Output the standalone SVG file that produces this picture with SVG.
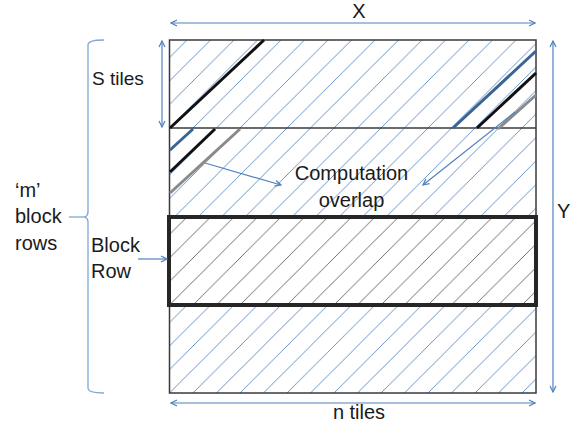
<svg xmlns="http://www.w3.org/2000/svg" width="574" height="429" viewBox="0 0 574 429">
  <style>
    .lbl { font-family: "Liberation Sans", Arial, sans-serif; font-size: 20px; fill: #1a1a1a; }
    .dim { stroke: #4f81bd; stroke-width: 1.2; fill: none; }
    .hatchB { stroke: #4f81bd; stroke-width: 0.85; }
    .hatchG { stroke: #555555; stroke-width: 0.85; }
    .frame { fill: none; stroke: #3a3a3a; stroke-width: 1.5; }
  </style>
  <defs>
    <marker id="open" viewBox="0 0 8 8" refX="7" refY="4" markerWidth="8" markerHeight="8" markerUnits="userSpaceOnUse" orient="auto-start-reverse">
      <path d="M1,1 L7,4 L1,7" fill="none" stroke="#4f81bd" stroke-width="1.2"/>
    </marker>
    <!-- 45 degree hatch, period 23.5 px; anchored per band -->
    <pattern id="hTop" patternUnits="userSpaceOnUse" x="169.5" y="128" width="23.5" height="23.5">
      <path class="hatchB" d="M-2,25.5 L25.5,-2"/>
    </pattern>
    <pattern id="hRow" patternUnits="userSpaceOnUse" x="169.5" y="305" width="23.5" height="23.5">
      <path class="hatchG" d="M-2,25.5 L25.5,-2"/>
    </pattern>
    <pattern id="hBot" patternUnits="userSpaceOnUse" x="169.5" y="393" width="23.5" height="23.5">
      <path class="hatchB" d="M-2,25.5 L25.5,-2"/>
    </pattern>
  </defs>

  <!-- tiled domain -->
  <g id="domain">
    <rect x="169.5" y="40" width="366.5" height="177" fill="url(#hTop)"/>
    <rect x="169.5" y="305" width="366.5" height="88" fill="url(#hBot)"/>
    <rect class="frame" x="169.5" y="40" width="366.5" height="353"/>
    <line x1="169.5" y1="128" x2="536" y2="128" stroke="#3a3a3a" stroke-width="1.5"/>
  </g>

  <!-- dependency wavefront lines -->
  <g id="wavefronts" stroke-width="3" fill="none" stroke-linecap="butt">
    <line x1="170" y1="128" x2="264" y2="40" stroke="#111111"/>
    <line x1="453" y1="128" x2="536" y2="51" stroke="#3b6496"/>
    <line x1="477" y1="128" x2="536" y2="73" stroke="#111111"/>
    <line x1="498" y1="129" x2="536" y2="95" stroke="#8a8a8a"/>
    <line x1="170" y1="150" x2="193" y2="129" stroke="#3b6496"/>
    <line x1="170" y1="172" x2="215" y2="129" stroke="#111111"/>
    <line x1="170" y1="193" x2="240" y2="129" stroke="#8a8a8a"/>
  </g>

  <!-- block row -->
  <g id="block-row">
    <rect x="169" y="217" width="367" height="88" fill="url(#hRow)"/>
    <rect x="169" y="217" width="367" height="88" fill="none" stroke="#262626" stroke-width="4"/>
  </g>

  <!-- dimension and pointer arrows -->
  <g id="connectors">
    <line class="dim" x1="171" y1="23" x2="535" y2="23" marker-start="url(#open)" marker-end="url(#open)"/>
    <line class="dim" x1="171" y1="403" x2="535" y2="403" marker-start="url(#open)" marker-end="url(#open)"/>
    <line class="dim" x1="553" y1="41" x2="553" y2="392" marker-start="url(#open)" marker-end="url(#open)"/>
    <line class="dim" x1="162" y1="41" x2="162" y2="127" marker-start="url(#open)" marker-end="url(#open)"/>
    <line class="dim" x1="205" y1="163" x2="281" y2="185" marker-end="url(#open)"/>
    <line class="dim" x1="515" y1="112" x2="423" y2="185" marker-end="url(#open)"/>
    <line class="dim" x1="138" y1="259" x2="167" y2="259" marker-end="url(#open)"/>
    <path d="M104,40 C94,40 88,41 88,45 L88,212 C88,215 87,216 85,217 C87,218 88,219 88,222 L88,388 C88,392 94,393 104,393" fill="none" stroke="#7ea6d8" stroke-width="1.3"/>
    <line x1="69" y1="217" x2="86" y2="217" stroke="#7ea6d8" stroke-width="1.3"/>
  </g>

  <!-- labels -->
  <g id="labels">
    <text class="lbl" x="359" y="18" text-anchor="middle">X</text>
    <text class="lbl" x="359" y="419" text-anchor="middle">n tiles</text>
    <text class="lbl" x="557" y="218">Y</text>
    <text class="lbl" x="92" y="85" style="font-size:19px">S tiles</text>
    <text class="lbl" x="15" y="197">‘m’</text>
    <text class="lbl" x="15" y="223">block</text>
    <text class="lbl" x="15" y="250">rows</text>
    <text class="lbl" x="91" y="252">Block</text>
    <text class="lbl" x="91" y="278">Row</text>
    <text class="lbl" x="351.5" y="180" text-anchor="middle">Computation</text>
    <text class="lbl" x="351.5" y="207" text-anchor="middle">overlap</text>
  </g>
</svg>
